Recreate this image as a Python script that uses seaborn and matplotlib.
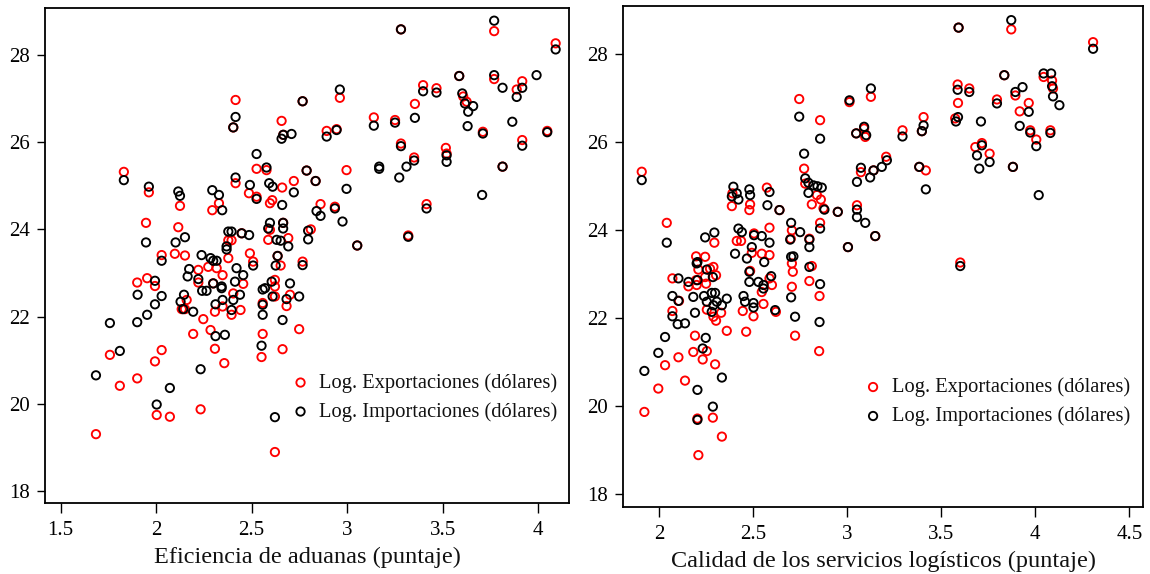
import matplotlib
matplotlib.use("Agg")
import matplotlib.pyplot as plt
import seaborn as sns
import pandas as pd

# ---------------- Data: panel 1 (Eficiencia de aduanas) ----------------
adu_exp_x = [2.416, 2.767, 2.404, 2.657, 2.666, 2.526, 2.578, 1.831, 2.788, 2.835, 2.416, 1.962, 2.125, 2.329,
             2.294, 2.486, 2.526, 2.608, 2.596, 2.660, 2.721, 1.947, 2.116, 2.029, 2.098, 2.151, 2.378, 2.395,
             2.378, 2.448, 2.596, 2.587, 2.665, 2.692, 2.491, 2.508, 2.636, 2.652, 2.767, 1.901, 1.953, 2.221,
             2.273, 2.317, 2.348, 2.456, 2.221, 2.622, 2.622, 1.994, 2.299, 2.160, 2.134, 2.151, 2.247, 2.194,
             2.308, 2.348, 2.395, 2.442, 2.404, 2.285, 2.308, 2.357, 2.233, 1.685, 1.758, 1.810, 1.901, 1.994,
             2.029, 2.003, 2.072, 2.622, 2.558, 2.683, 2.701, 2.749, 2.558, 2.552, 2.662, 2.622, 3.282, 3.770,
             4.092, 2.962, 2.893, 2.945, 3.140, 3.251, 3.355, 3.398, 3.468, 3.587, 3.608, 3.626, 3.770, 3.917,
             3.888, 3.711, 4.048, 3.917, 3.282, 3.517, 3.521, 3.351, 2.997, 2.861, 2.936, 3.416, 2.810, 3.053,
             3.320, 3.814]
adu_exp_y = [26.97, 26.94, 26.34, 26.49, 26.17, 25.39, 25.36, 25.32, 25.35, 25.11, 25.06, 24.85, 24.54, 24.60,
             24.44, 24.83, 24.75, 24.67, 24.60, 24.96, 25.11, 24.15, 24.05, 23.41, 23.44, 23.40, 23.75, 23.75,
             23.34, 23.91, 23.99, 23.76, 24.15, 23.80, 23.45, 23.26, 23.39, 23.17, 23.26, 22.78, 22.88, 23.07,
             23.14, 23.11, 22.95, 22.75, 22.78, 22.84, 22.69, 22.70, 22.76, 22.38, 22.17, 22.17, 21.94, 21.60,
             22.11, 22.23, 22.04, 22.15, 22.53, 21.69, 21.26, 20.93, 19.87, 19.30, 21.12, 20.41, 20.58, 20.97,
             21.23, 19.74, 19.70, 22.46, 22.31, 22.24, 22.50, 21.71, 21.60, 21.07, 21.25, 18.89, 28.59, 28.55,
             28.27, 27.02, 26.26, 26.30, 26.57, 26.51, 26.88, 27.31, 27.24, 27.52, 27.05, 26.93, 27.45, 27.40,
             27.21, 26.24, 26.26, 26.05, 25.97, 25.87, 25.74, 25.65, 25.36, 24.58, 24.52, 24.58, 24.00, 23.63,
             23.86, 25.44]

adu_imp_x = [2.767, 2.416, 2.404, 2.666, 2.657, 2.709, 2.526, 2.578, 1.831, 2.788, 2.835, 2.416, 1.962, 2.116,
             2.125, 2.294, 2.329, 2.346, 2.491, 2.526, 2.592, 2.610, 2.660, 2.721, 1.947, 2.102, 2.151, 2.029,
             2.238, 2.285, 2.317, 2.299, 2.378, 2.395, 2.369, 2.369, 2.448, 2.487, 2.587, 2.596, 2.665, 2.665,
             2.631, 2.652, 2.692, 2.796, 2.796, 2.508, 2.636, 2.626, 2.767, 1.994, 2.173, 2.165, 2.421, 2.456,
             2.413, 2.221, 2.299, 2.343, 2.570, 2.605, 2.701, 1.903, 1.994, 2.029, 1.953, 1.758, 1.901, 2.241,
             2.264, 2.146, 2.128, 2.142, 2.194, 2.343, 2.311, 2.348, 2.395, 2.404, 2.439, 2.311, 2.360, 2.233,
             1.685, 1.810, 2.072, 2.003, 2.558, 2.558, 2.558, 2.610, 2.683, 2.749, 2.662, 2.552, 2.622, 3.282,
             3.770, 4.092, 2.962, 2.893, 2.945, 3.140, 3.251, 3.355, 3.398, 3.468, 3.587, 3.603, 3.617, 3.634,
             3.660, 3.631, 3.770, 3.814, 3.917, 3.888, 3.992, 3.865, 3.711, 4.048, 3.917, 3.282, 3.521, 3.521,
             3.351, 3.311, 3.273, 3.168, 3.168, 2.997, 2.840, 2.861, 2.936, 2.976, 3.416, 3.053, 3.320, 3.707,
             3.814]
adu_imp_y = [26.94, 26.58, 26.34, 26.17, 26.08, 26.19, 25.73, 25.42, 25.13, 25.35, 25.11, 25.19, 24.98, 24.87,
             24.77, 24.90, 24.79, 24.44, 25.02, 24.70, 25.06, 24.98, 24.56, 24.85, 23.70, 23.70, 23.82, 23.28,
             23.41, 23.34, 23.28, 23.28, 23.95, 23.95, 23.61, 23.54, 23.91, 23.87, 24.02, 24.15, 24.15, 24.02,
             23.76, 23.74, 23.61, 23.97, 23.77, 23.17, 23.39, 23.17, 23.18, 22.82, 23.09, 22.92, 23.11, 22.95,
             22.80, 22.86, 22.76, 22.69, 22.65, 22.80, 22.76, 22.50, 22.28, 22.47, 22.04, 21.85, 21.87, 22.59,
             22.59, 22.50, 22.34, 22.17, 22.11, 22.65, 22.28, 22.38, 22.15, 22.38, 22.50, 21.55, 21.58, 20.79,
             20.65, 21.21, 20.36, 19.98, 22.62, 22.27, 22.04, 22.46, 22.40, 22.46, 21.92, 21.33, 19.69, 28.59,
             28.79, 28.13, 27.21, 26.13, 26.28, 26.38, 26.45, 26.56, 27.17, 27.14, 27.52, 27.12, 26.89, 26.70,
             26.83, 26.37, 27.54, 27.25, 27.25, 27.04, 27.54, 26.47, 26.20, 26.23, 25.92, 25.91, 25.70, 25.55,
             25.58, 25.44, 25.19, 25.44, 25.39, 24.93, 24.42, 24.31, 24.48, 24.18, 24.48, 23.63, 23.83, 24.79,
             25.44]

# ---------------- Data: panel 2 (Calidad de los servicios logísticos) ----------------
log_exp_x = [1.908, 2.041, 2.745, 2.856, 2.771, 2.777, 2.812, 2.839, 2.860, 2.874, 3.012, 3.126, 3.048, 3.096,
             3.073, 3.140, 3.052, 2.950, 3.004, 3.149, 2.640, 2.573, 2.390, 2.387, 2.484, 2.480, 2.587, 2.706,
             2.700, 2.799, 2.856, 2.294, 2.413, 2.436, 2.505, 2.587, 2.546, 2.493, 2.197, 2.245, 2.209, 2.271,
             2.484, 2.587, 2.812, 2.706, 2.711, 2.799, 2.706, 2.071, 2.245, 2.303, 2.289, 2.197, 2.250, 2.156,
             2.200, 2.071, 2.106, 2.254, 2.289, 2.303, 2.330, 2.360, 2.445, 2.502, 2.463, 2.555, 2.600, 2.621,
             2.546, 2.723, 2.853, 2.851, 2.032, 1.996, 1.922, 2.103, 2.138, 2.191, 2.182, 2.232, 2.254, 2.298,
             2.334, 2.286, 2.209, 2.204, 3.872, 3.592, 4.307, 3.835, 4.044, 4.089, 4.094, 3.587, 3.649, 3.589,
             3.574, 3.796, 3.894, 3.965, 3.917, 3.973, 4.080, 4.005, 3.090, 3.294, 3.406, 3.397, 3.716, 3.757,
             3.681, 3.881, 3.207, 3.383, 3.418, 3.601]
log_exp_y = [25.32, 24.16, 26.97, 26.49, 25.39, 25.05, 24.58, 24.79, 24.69, 24.49, 26.90, 27.02, 26.19, 26.11,
             25.31, 25.35, 24.56, 24.41, 23.61, 23.86, 24.45, 24.96, 24.83, 24.54, 24.58, 24.45, 24.05, 23.99,
             23.80, 23.80, 24.16, 23.71, 23.75, 23.75, 23.92, 23.43, 23.46, 23.48, 23.40, 23.39, 23.10, 23.12,
             23.07, 22.90, 23.18, 23.24, 23.05, 22.84, 22.71, 22.90, 22.93, 22.97, 23.16, 22.86, 22.78, 22.72,
             22.75, 22.16, 22.39, 22.19, 22.03, 21.94, 22.12, 21.71, 22.16, 22.04, 21.69, 22.32, 22.75, 22.14,
             22.59, 21.60, 22.50, 21.25, 20.93, 20.40, 19.87, 21.11, 20.58, 21.60, 21.23, 21.06, 21.25, 20.95,
             19.31, 19.74, 18.89, 19.72, 28.55, 28.59, 28.26, 27.51, 27.47, 27.39, 27.21, 27.30, 27.21, 26.88,
             26.53, 26.96, 27.05, 26.88, 26.69, 26.26, 26.26, 26.05, 26.30, 26.26, 26.56, 26.24, 25.97, 25.73,
             25.88, 25.43, 25.66, 25.43, 25.35, 23.26]

log_imp_x = [1.908, 2.041, 2.745, 2.856, 2.771, 2.777, 2.794, 2.794, 2.821, 2.842, 2.865, 2.879, 3.012, 3.126,
             3.048, 3.090, 3.101, 3.073, 3.052, 3.122, 3.140, 3.052, 3.052, 3.096, 2.950, 3.004, 3.149, 2.640,
             2.576, 2.587, 2.395, 2.387, 2.422, 2.413, 2.480, 2.484, 2.702, 2.750, 2.697, 2.799, 2.799, 2.856,
             2.245, 2.294, 2.422, 2.440, 2.505, 2.546, 2.587, 2.493, 2.559, 2.467, 2.404, 2.204, 2.200, 2.254,
             2.480, 2.596, 2.702, 2.714, 2.799, 2.856, 2.103, 2.156, 2.204, 2.286, 2.480, 2.528, 2.555, 2.071,
             2.103, 2.071, 2.099, 2.138, 2.191, 2.182, 2.239, 2.254, 2.280, 2.298, 2.307, 2.334, 2.360, 2.280,
             2.289, 2.449, 2.457, 2.502, 2.502, 2.555, 2.617, 2.702, 2.723, 2.853, 2.032, 1.996, 1.922, 2.248,
             2.232, 2.204, 2.286, 2.204, 2.334, 3.872, 3.592, 4.307, 3.835, 4.044, 4.084, 4.089, 4.094, 4.128,
             3.587, 3.649, 3.578, 3.589, 3.711, 3.796, 3.894, 3.932, 3.965, 3.917, 3.973, 4.080, 4.005, 3.294,
             3.406, 3.397, 3.716, 3.690, 3.757, 3.702, 3.881, 4.018, 3.211, 3.184, 3.383, 3.418, 3.601]
log_imp_y = [25.13, 23.71, 26.57, 26.07, 25.73, 25.17, 25.07, 24.84, 25.01, 24.99, 24.96, 24.46, 26.94, 27.21,
             26.19, 26.34, 26.15, 25.41, 25.09, 25.19, 25.35, 24.46, 24.29, 24.16, 24.41, 23.61, 23.86, 24.45,
             24.56, 24.86, 24.98, 24.76, 24.69, 24.83, 24.92, 24.79, 24.16, 23.95, 23.78, 23.78, 23.61, 24.03,
             23.83, 23.94, 24.03, 23.95, 23.88, 23.86, 23.71, 23.61, 23.27, 23.35, 23.46, 23.27, 23.24, 23.10,
             23.05, 22.95, 23.39, 23.40, 23.16, 22.77, 22.90, 22.82, 22.86, 22.93, 22.82, 22.82, 22.75, 22.50,
             22.39, 22.04, 21.86, 21.88, 22.12, 22.48, 22.50, 22.37, 22.57, 22.57, 22.37, 22.29, 22.44, 22.14,
             22.29, 22.50, 22.37, 22.34, 22.24, 22.67, 22.18, 22.47, 22.03, 21.91, 21.57, 21.21, 20.80, 21.55,
             21.31, 20.37, 19.99, 19.69, 20.65, 28.76, 28.59, 28.11, 27.51, 27.55, 27.55, 27.26, 27.03, 26.83,
             27.18, 27.13, 26.46, 26.56, 26.46, 26.87, 27.13, 27.24, 26.68, 26.36, 26.21, 26.20, 25.90, 26.12,
             26.37, 26.24, 25.92, 25.69, 25.54, 25.39, 25.43, 24.79, 25.58, 25.43, 25.43, 24.92, 23.18]

label_exp = "Log. Exportaciones (dólares)"
label_imp = "Log. Importaciones (dólares)"
xlabel_left = "Eficiencia de aduanas (puntaje)"
xlabel_right = "Calidad de los servicios logísticos (puntaje)"
yticks = [18, 20, 22, 24, 26, 28]
xticks_left = [1.5, 2, 2.5, 3, 3.5, 4]
xticks_right = [2, 2.5, 3, 3.5, 4, 4.5]

# ---------------- Style ----------------
sns.set_style("white")
plt.rcParams["font.family"] = ["Liberation Serif", "DejaVu Serif"]

fig = plt.figure(figsize=(11.5, 5.74), dpi=100)
ax1 = fig.add_axes([0.0391, 0.1237, 0.4557, 0.8623])
ax2 = fig.add_axes([0.5420, 0.1173, 0.4517, 0.8722])

RED = "#ff0000"
BLACK = "#000000"
mk = dict(marker="o", s=36, linewidth=1.35, facecolor="none")


def tick_fmt(v):
    return f"{v:g}"


def panel(ax, ex, ey, ix, iy, xlabel, xticks, xlim, leg_anchor):
    sns.scatterplot(x=ex, y=ey, ax=ax, edgecolor=RED, label=label_exp, **mk)
    sns.scatterplot(x=ix, y=iy, ax=ax, edgecolor=BLACK, label=label_imp, **mk)
    ax.set_xlim(*xlim)
    ax.set_ylim(17.72, 29.08)
    ax.set_xticks(xticks)
    ax.set_xticklabels([tick_fmt(v) for v in xticks])
    ax.set_yticks(yticks)
    ax.set_yticklabels([tick_fmt(v) for v in yticks])
    ax.set_xlabel(xlabel, fontsize=17.5, labelpad=5, color="#111111")
    ax.set_ylabel("")
    for sp in ax.spines.values():
        sp.set_visible(True)
        sp.set_color("black")
        sp.set_linewidth(1.3)
    ax.tick_params(axis="x", direction="out", length=7, width=1, pad=6,
                   labelsize=15, colors="black", bottom=True)
    ax.tick_params(axis="y", direction="out", length=6, width=1, pad=5,
                   labelsize=15, colors="black", left=True)
    ax.grid(False)
    leg = ax.legend(loc="center left", bbox_to_anchor=leg_anchor, frameon=False,
                    fontsize=14.8, handlelength=0.8, handletextpad=0.5,
                    borderpad=0, borderaxespad=0, labelspacing=0.45, markerscale=1.0)
    for t in leg.get_texts():
        t.set_color("#111111")
    for h in leg.legend_handles:
        h.set_facecolor("none")


panel(ax1, adu_exp_x, adu_exp_y, adu_imp_x, adu_imp_y, xlabel_left, xticks_left,
      (1.418, 4.162), (0.472, 0.213))
panel(ax2, log_exp_x, log_exp_y, log_imp_x, log_imp_y, xlabel_right, xticks_right,
      (1.81, 4.571), (0.465, 0.209))

fig.savefig("out.png", dpi=100)
